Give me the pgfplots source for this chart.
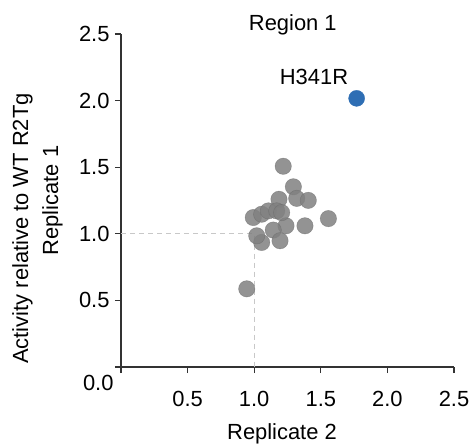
\documentclass[border=0pt]{standalone}
\usepackage{pgfplots}
\pgfplotsset{compat=1.18}
\usepackage{fontspec}
\setmainfont{Liberation Sans}
\definecolor{dotgray}{RGB}{128,128,128}
\definecolor{dotblue}{RGB}{46,110,180}
\definecolor{dashgray}{RGB}{200,200,200}
\begin{document}
\begin{tikzpicture}[font=\fontsize{22}{26}\selectfont]
\path[use as bounding box] (0,0) rectangle (473bp,445bp);
\begin{axis}[
  at={(121bp,78bp)}, anchor=south west,
  scale only axis, width=333bp, height=333bp,
  xmin=0, xmax=2.5, ymin=0, ymax=2.5,
  axis lines*=left, axis line style={line width=1.1pt, black!80},
  clip=false,
  xtick={0,0.5,1.0,1.5,2.0,2.5},
  xticklabels={,0.5,1.0,1.5,2.0,2.5},
  ytick={0.5,1.0,1.5,2.0,2.5},
  extra y ticks={0},
  extra y tick labels={0.0},
  extra y tick style={yticklabel style={yshift=-16bp, xshift=4bp}},
  tick align=outside, major tick length=6bp,
  tick style={line width=1.1pt, black!80},
  /pgf/number format/assume math mode=true,
  /pgf/number format/fixed, /pgf/number format/fixed zerofill,
  /pgf/number format/precision=1,
  xticklabel style={yshift=-15bp, font=\fontsize{22}{26}\selectfont},
  yticklabel style={xshift=-2bp, font=\fontsize{22}{26}\selectfont},
]
\addplot[dashgray, line width=0.8pt, dash pattern=on 5bp off 4bp] coordinates {(0,1) (1,1) (1,0)};
\addplot[only marks, mark=*, mark size=8.2bp, mark options={fill=dotgray, fill opacity=0.85, draw=dotgray!80!black, draw opacity=0.5, line width=0.5pt}] coordinates {
(1.218,1.507) (1.294,1.353) (1.186,1.259) (1.319,1.266) (1.406,1.251)
(1.557,1.114) (1.381,1.060) (1.239,1.060) (1.143,1.028) (1.194,0.948)
(1.056,0.935) (1.019,0.985) (0.993,1.122) (1.056,1.147) (1.106,1.172)
(1.169,1.172) (1.206,1.159) (0.944,0.587)
};
\addplot[only marks, mark=*, mark size=8bp, mark options={fill=dotblue, draw=dotblue}] coordinates {(1.769,2.017)};
\node at (axis cs:1.29,2.567) {Region 1};
\node at (axis cs:1.449,2.179) {H341R};
\end{axis}
\node[rotate=90, anchor=base, inner sep=0pt] at (28bp,216.5bp) {Activity relative to WT R2Tg};
\node[rotate=90, anchor=base, inner sep=0pt] at (58bp,244.5bp) {Replicate 1};
\node[anchor=base, inner sep=0pt] at (282bp,6bp) {Replicate 2};
\end{tikzpicture}
\end{document}
